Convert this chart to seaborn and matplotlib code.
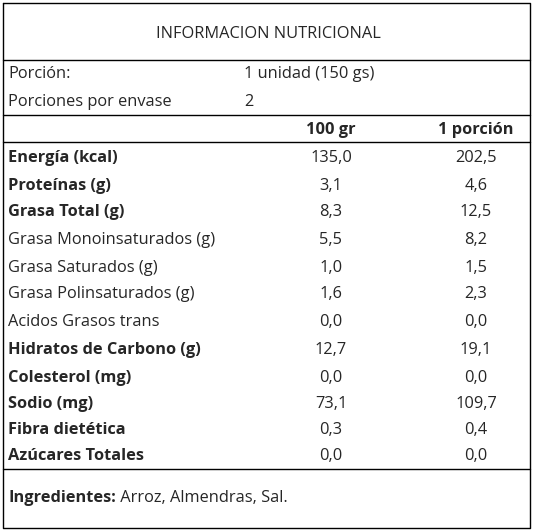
import matplotlib
matplotlib.use("Agg")
import matplotlib.pyplot as plt
import seaborn as sns

sns.set_theme(style="white")
plt.rcParams['font.family'] = ['Open Sans', 'DejaVu Sans']

title = "INFORMACION NUTRICIONAL"
serving_labels = ["Porción:", "Porciones por envase"]
serving_values = ["1 unidad (150 gs)", "2"]
col_headers = ["100 gr", "1 porción"]
nutrients = ["Energía (kcal)", "Proteínas (g)", "Grasa Total (g)", "Grasa Monoinsaturados (g)",
             "Grasa Saturados (g)", "Grasa Polinsaturados (g)", "Acidos Grasos trans",
             "Hidratos de Carbono (g)", "Colesterol (mg)", "Sodio (mg)", "Fibra dietética",
             "Azúcares Totales"]
bold_rows = [True, True, True, False, False, False, False, True, True, True, True, True]
per100 = ["135,0", "3,1", "8,3", "5,5", "1,0", "1,6", "0,0", "12,7", "0,0", "73,1", "0,3", "0,0"]
perportion = ["202,5", "4,6", "12,5", "8,2", "1,5", "2,3", "0,0", "19,1", "0,0", "109,7", "0,4", "0,0"]
ingredients_label = "Ingredientes:"
ingredients = " Arroz, Almendras, Sal."

fig = plt.figure(figsize=(5.33, 5.31), dpi=100)
ax = fig.add_axes([0, 0, 1, 1])
ax.set_xlim(0, 533)
ax.set_ylim(531, 0)
ax.axis("off")

lw = 1.0
ax.plot([3, 530, 530, 3, 3], [3, 3, 528, 528, 3], color="black", lw=lw)
for y in [60, 115, 142, 469]:
    ax.plot([3, 530], [y, y], color="black", lw=lw)

fs = 11.8
off = 5.5  # baseline offset from row center

def txt(x, y, s, ha="left", bold=False):
    return ax.text(x, y + off, s, ha=ha, va="baseline", fontsize=fs,
                   fontweight="bold" if bold else "normal")

txt(268, 32, title, ha="center")
for i, (l, v) in enumerate(zip(serving_labels, serving_values)):
    y = 73 + i * 28
    txt(8, y, l)
    txt(244, y, v)
txt(331, 129, col_headers[0], ha="center", bold=True)
txt(476, 129, col_headers[1], ha="center", bold=True)
ys = [157, 184, 211, 239, 266, 293, 321, 348, 376, 403, 429, 455]
for n, b, a, p, y in zip(nutrients, bold_rows, per100, perportion, ys):
    txt(8, y, n, bold=b)
    txt(331, y, a, ha="center")
    txt(476, y, p, ha="center")
t = txt(8, 497, ingredients_label, bold=True)
fig.canvas.draw()
bb = t.get_window_extent()
txt(8 + bb.width, 497, ingredients)

fig.savefig("out.png", dpi=100)
